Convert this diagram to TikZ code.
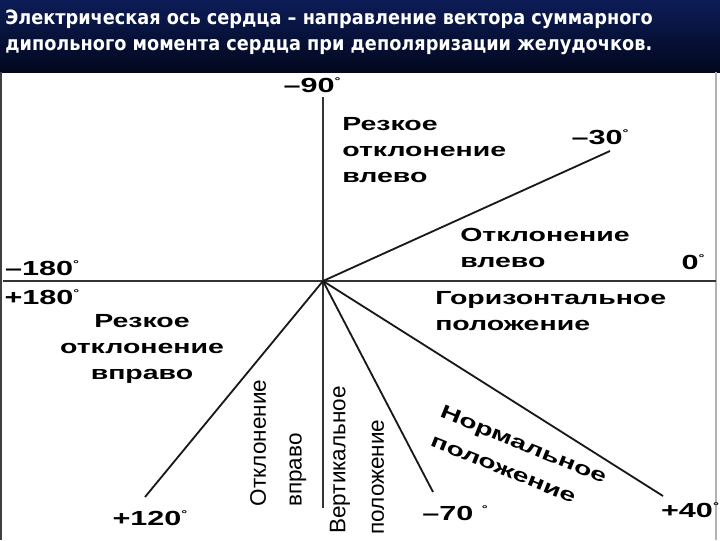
\documentclass[tikz,border=0pt]{standalone}
\usepackage{fontspec}
\setmainfont{Liberation Sans}
\newfontfamily\widefont{Liberation Sans}[FakeStretch=1.5]
\newfontfamily\headfont{DejaVu Sans}[FakeStretch=0.9]
\usetikzlibrary{positioning}
\definecolor{navytop}{RGB}{12,28,86}
\definecolor{navybot}{RGB}{3,8,30}
\newcommand\dg{\raisebox{0.7ex}{\scriptsize°}}

\begin{document}
\begin{tikzpicture}[x=0.025cm,y=-0.025cm,
    axis/.style={line width=1.6pt, black!80},
    ray/.style={line width=1.3pt, black!90},
    lbl/.style={font=\widefont\bfseries\fontsize{13.5}{18.5}\selectfont, inner sep=0pt},
    vlbl/.style={font=\fontsize{16}{18}\selectfont, inner sep=0pt, rotate=90},
    ang/.style={font=\widefont\bfseries\fontsize{14.5}{16}\selectfont, inner sep=0pt}]
    % frame and header
    \useasboundingbox (0,0) rectangle (720,540);
    \fill[white] (0,0) rectangle (720,540);
    \shade[top color=navytop, bottom color=navybot] (0,0) rectangle (720,72);
    \draw[black!75, line width=2pt] (1,72) -- (1,540);
    \draw[black!30, line width=1pt] (716,72) -- (716,540);
    \node[anchor=north west, align=left, text=white, inner sep=0pt,
          font=\headfont\bfseries\fontsize{14}{18}\selectfont] (title) at (5,10)
        {Электрическая ось сердца – направление вектора суммарного\\
         дипольного момента сердца при деполяризации желудочков.};

    % axes
    \coordinate (O) at (323,281);
    \coordinate (W) at (3,281);
    \coordinate (E) at (716,281);
    \coordinate (N) at (323,97);
    \coordinate (S) at (323,508);
    \draw[axis] (W) -- (E);
    \draw[axis] (N) -- (S);

    % rays
    \coordinate (e30) at (610,151);
    \coordinate (e40) at (663,496);
    \coordinate (e70) at (433,492);
    \coordinate (e120) at (145,497);
    \foreach \e in {e30,e40,e70,e120} {
        \draw[ray] (O) -- (\e);
    }

    % angles
    \node[ang] (a90) at (312,85) {–90\dg};
    \node[ang] (a30) at (600,137) {–30\dg};
    \node[ang] (a0) at (693,262) {0\dg};
    \node[ang] (a180m) at (42,268) {–180\dg};
    \node[ang] (a180p) at (42,297) {+180\dg};
    \node[ang] (a120) at (150,518) {+120\dg};
    \node[ang] (a70) at (455,513) {–70 \dg};
    \node[ang] (a40) at (690,510) {+40\dg};

    % zones
    \node[lbl, anchor=north west, align=left] (sharpL) at (342,117) {Резкое\\отклонение\\влево};
    \node[lbl, anchor=north west, align=left] (devL) at (460,228) {Отклонение\\влево};
    \node[lbl, anchor=north west, align=left] (horiz) at (435,291) {Горизонтальное\\положение};
    \node[lbl, anchor=north, align=center] (sharpR) at (142,314) {Резкое\\отклонение\\вправо};
    \node[vlbl] (devR1) at (258,443) {Отклонение};
    \node[vlbl] (devR2) at (298,470) {вправо};
    \node[vlbl] (vert1) at (340,460) {Вертикальное};
    \node[vlbl] (vert2) at (378,477) {положение};
    \node[lbl, rotate=-22] (norm1) at (523,446) {Нормальное};
    \node[lbl, rotate=-22] (norm2) at (503,470) {положение};
\end{tikzpicture}
\end{document}
